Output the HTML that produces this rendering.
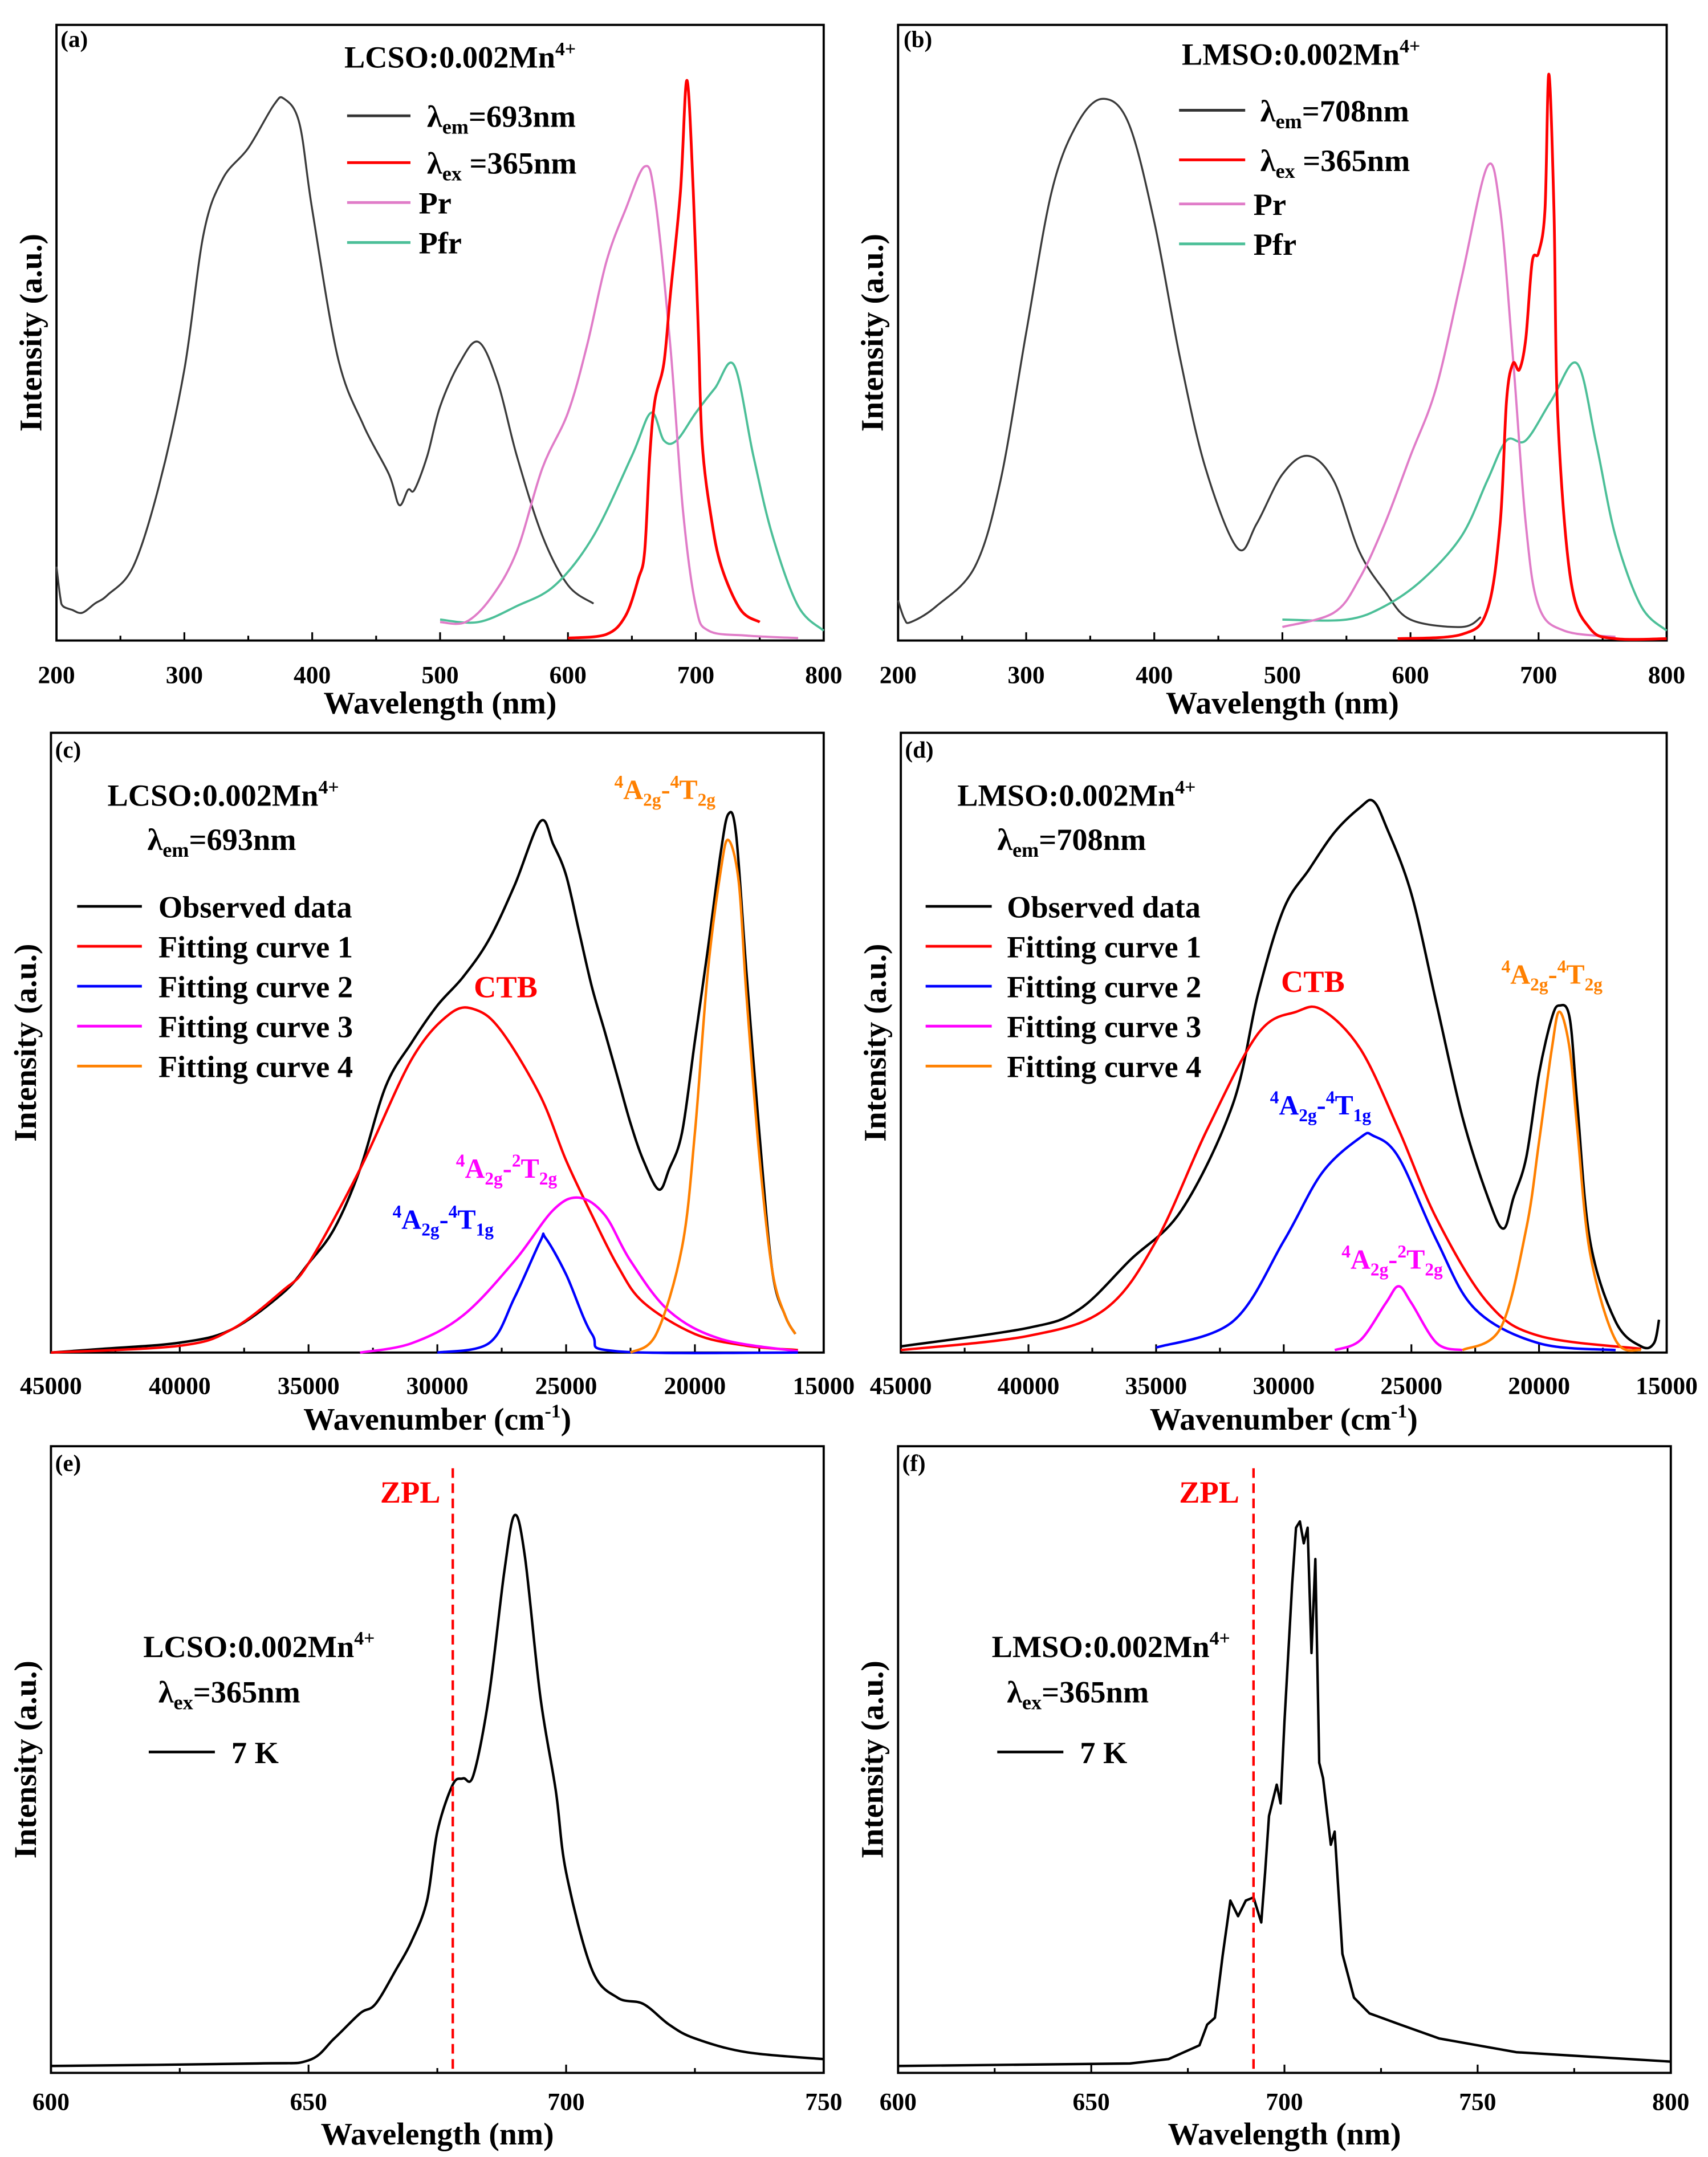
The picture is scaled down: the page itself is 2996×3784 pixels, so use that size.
<!DOCTYPE html>
<html><head><meta charset="utf-8"><style>
html,body{margin:0;padding:0;background:#fff;}
svg{display:block;font-family:"Liberation Serif",serif;font-weight:bold;}
</style></head><body>
<svg id="chart" width="2996" height="3784" viewBox="0 0 1240 1566" xmlns="http://www.w3.org/2000/svg">
<g id="marks"></g>
<g font-size="22.5">
<text x="44" y="34" font-size="17">(a)</text>
<text x="250" y="49">LCSO:0.002Mn<tspan dy="-9" font-size="14">4+</tspan></text>
<line x1="252" y1="84" x2="298" y2="84" stroke="#333" stroke-width="2"/>
<text x="310" y="92">λ<tspan dy="5" font-size="15">em</tspan><tspan dy="-5">=693nm</tspan></text>
<line x1="252" y1="118" x2="298" y2="118" stroke="#f00" stroke-width="2"/>
<text x="310" y="126">λ<tspan dy="5" font-size="15">ex</tspan><tspan dy="-5"> =365nm</tspan></text>
<line x1="252" y1="147" x2="298" y2="147" stroke="#e07cc8" stroke-width="2"/>
<text x="304" y="155">Pr</text>
<line x1="252" y1="176" x2="298" y2="176" stroke="#4cbf98" stroke-width="2"/>
<text x="304" y="184">Pfr</text>
</g>
<g font-size="22.5">
<text x="656" y="34" font-size="17">(b)</text>
<text x="858" y="47">LMSO:0.002Mn<tspan dy="-9" font-size="14">4+</tspan></text>
<line x1="856" y1="80" x2="904" y2="80" stroke="#333" stroke-width="2"/>
<text x="915" y="88">λ<tspan dy="5" font-size="15">em</tspan><tspan dy="-5">=708nm</tspan></text>
<line x1="856" y1="116" x2="904" y2="116" stroke="#f00" stroke-width="2"/>
<text x="915" y="124">λ<tspan dy="5" font-size="15">ex</tspan><tspan dy="-5"> =365nm</tspan></text>
<line x1="856" y1="148" x2="904" y2="148" stroke="#e07cc8" stroke-width="2"/>
<text x="910" y="156">Pr</text>
<line x1="856" y1="177" x2="904" y2="177" stroke="#4cbf98" stroke-width="2"/>
<text x="910" y="185">Pfr</text>
</g>
<g font-size="22.5">
<text x="40" y="550" font-size="17">(c)</text>
<text x="78" y="585">LCSO:0.002Mn<tspan dy="-9" font-size="14">4+</tspan></text>
<text x="107" y="617">λ<tspan dy="5" font-size="15">em</tspan><tspan dy="-5">=693nm</tspan></text>
<line x1="56" y1="658" x2="103" y2="658" stroke="#000" stroke-width="2"/><text x="115" y="666">Observed data</text>
<line x1="56" y1="687" x2="103" y2="687" stroke="#f00" stroke-width="2"/><text x="115" y="695">Fitting curve 1</text>
<line x1="56" y1="716" x2="103" y2="716" stroke="#00f" stroke-width="2"/><text x="115" y="724">Fitting curve 2</text>
<line x1="56" y1="745" x2="103" y2="745" stroke="#f0f" stroke-width="2"/><text x="115" y="753">Fitting curve 3</text>
<line x1="56" y1="774" x2="103" y2="774" stroke="#ff8000" stroke-width="2"/><text x="115" y="782">Fitting curve 4</text>
<text x="344" y="724" fill="#f00">CTB</text>
<text x="446" y="580" fill="#ff8000" font-size="20"><tspan font-size="13" dy="-8">4</tspan><tspan dy="8">A</tspan><tspan font-size="13" dy="5">2g</tspan><tspan dy="-5">-</tspan><tspan font-size="13" dy="-8">4</tspan><tspan dy="8">T</tspan><tspan font-size="13" dy="5">2g</tspan></text>
<text x="331" y="855" fill="#f0f" font-size="20"><tspan font-size="13" dy="-8">4</tspan><tspan dy="8">A</tspan><tspan font-size="13" dy="5">2g</tspan><tspan dy="-5">-</tspan><tspan font-size="13" dy="-8">2</tspan><tspan dy="8">T</tspan><tspan font-size="13" dy="5">2g</tspan></text>
<text x="285" y="892" fill="#00f" font-size="20"><tspan font-size="13" dy="-8">4</tspan><tspan dy="8">A</tspan><tspan font-size="13" dy="5">2g</tspan><tspan dy="-5">-</tspan><tspan font-size="13" dy="-8">4</tspan><tspan dy="8">T</tspan><tspan font-size="13" dy="5">1g</tspan></text>
</g>
<g font-size="22.5">
<text x="657" y="550" font-size="17">(d)</text>
<text x="695" y="585">LMSO:0.002Mn<tspan dy="-9" font-size="14">4+</tspan></text>
<text x="724" y="617">λ<tspan dy="5" font-size="15">em</tspan><tspan dy="-5">=708nm</tspan></text>
<line x1="672" y1="658" x2="720" y2="658" stroke="#000" stroke-width="2"/><text x="731" y="666">Observed data</text>
<line x1="672" y1="687" x2="720" y2="687" stroke="#f00" stroke-width="2"/><text x="731" y="695">Fitting curve 1</text>
<line x1="672" y1="716" x2="720" y2="716" stroke="#00f" stroke-width="2"/><text x="731" y="724">Fitting curve 2</text>
<line x1="672" y1="745" x2="720" y2="745" stroke="#f0f" stroke-width="2"/><text x="731" y="753">Fitting curve 3</text>
<line x1="672" y1="774" x2="720" y2="774" stroke="#ff8000" stroke-width="2"/><text x="731" y="782">Fitting curve 4</text>
<text x="930" y="720" fill="#f00">CTB</text>
<text x="1090" y="714" fill="#ff8000" font-size="20"><tspan font-size="13" dy="-8">4</tspan><tspan dy="8">A</tspan><tspan font-size="13" dy="5">2g</tspan><tspan dy="-5">-</tspan><tspan font-size="13" dy="-8">4</tspan><tspan dy="8">T</tspan><tspan font-size="13" dy="5">2g</tspan></text>
<text x="922" y="809" fill="#00f" font-size="20"><tspan font-size="13" dy="-8">4</tspan><tspan dy="8">A</tspan><tspan font-size="13" dy="5">2g</tspan><tspan dy="-5">-</tspan><tspan font-size="13" dy="-8">4</tspan><tspan dy="8">T</tspan><tspan font-size="13" dy="5">1g</tspan></text>
<text x="974" y="921" fill="#f0f" font-size="20"><tspan font-size="13" dy="-8">4</tspan><tspan dy="8">A</tspan><tspan font-size="13" dy="5">2g</tspan><tspan dy="-5">-</tspan><tspan font-size="13" dy="-8">2</tspan><tspan dy="8">T</tspan><tspan font-size="13" dy="5">2g</tspan></text>
</g>
<g font-size="22.5">
<text x="40" y="1068" font-size="17">(e)</text>
<text x="276" y="1091" fill="#f00">ZPL</text>
<text x="104" y="1203">LCSO:0.002Mn<tspan dy="-9" font-size="14">4+</tspan></text>
<text x="115" y="1236">λ<tspan dy="5" font-size="15">ex</tspan><tspan dy="-5">=365nm</tspan></text>
<line x1="108" y1="1272" x2="156" y2="1272" stroke="#000" stroke-width="2"/><text x="168" y="1280">7 K</text>
</g>
<g font-size="22.5">
<text x="655" y="1068" font-size="17">(f)</text>
<text x="856" y="1091" fill="#f00">ZPL</text>
<text x="720" y="1203">LMSO:0.002Mn<tspan dy="-9" font-size="14">4+</tspan></text>
<text x="731" y="1236">λ<tspan dy="5" font-size="15">ex</tspan><tspan dy="-5">=365nm</tspan></text>
<line x1="724" y1="1272" x2="772" y2="1272" stroke="#000" stroke-width="2"/><text x="784" y="1280">7 K</text>
</g>
</svg>
<script>
const aExcitation=[[200,0.12],[203,0.07],[205,0.056],[212,0.05],[220,0.045],[230,0.06],[240,0.074],[260,0.12],[280,0.25],[300,0.44],[315,0.66],[330,0.75],[350,0.8],[370,0.87],[378,0.88],[390,0.84],[400,0.7],[420,0.46],[440,0.35],[460,0.27],[468,0.22],[475,0.245],[480,0.245],[490,0.3],[500,0.38],[515,0.45],[530,0.485],[545,0.42],[560,0.3],[580,0.17],[600,0.09],[620,0.06]];
const aEmission=[[600,0.004],[630,0.01],[645,0.04],[655,0.1],[660,0.145],[664,0.3],[668,0.39],[675,0.45],[680,0.56],[688,0.73],[693,0.91],[698,0.73],[702,0.5],[705,0.32],[712,0.2],[720,0.12],[735,0.05],[750,0.03]];
const aPr=[[500,0.03],[520,0.03],[540,0.07],[560,0.145],[580,0.28],[600,0.37],[615,0.48],[630,0.615],[645,0.7],[660,0.77],[668,0.72],[680,0.48],[690,0.21],[700,0.056],[710,0.016],[740,0.008],[780,0.004]];
const aPfr=[[500,0.034],[530,0.03],[560,0.056],[590,0.09],[620,0.17],[650,0.3],[665,0.37],[675,0.325],[685,0.325],[700,0.37],[715,0.41],[730,0.447],[745,0.3],[760,0.17],[780,0.056],[800,0.016]];
const bExcitation=[[200,0.065],[205,0.035],[210,0.03],[230,0.056],[260,0.12],[280,0.26],[300,0.5],[320,0.73],[340,0.84],[360,0.88],[380,0.84],[400,0.68],[420,0.46],[440,0.28],[465,0.15],[480,0.19],[500,0.27],[520,0.3],[540,0.26],[560,0.145],[580,0.08],[600,0.034],[640,0.022],[655,0.038]];
const bEmission=[[590,0.003],[640,0.01],[660,0.05],[670,0.19],[675,0.39],[680,0.45],[685,0.44],[690,0.49],[695,0.615],[700,0.63],[705,0.7],[708,0.92],[712,0.7],[715,0.365],[725,0.1],[740,0.02],[760,0.003],[800,0.003]];
const bPr=[[500,0.022],[540,0.045],[560,0.1],[580,0.19],[600,0.3],[620,0.41],[640,0.59],[660,0.77],[670,0.7],[680,0.46],[690,0.19],[700,0.056],[720,0.016],[760,0.006]];
const bPfr=[[500,0.034],[550,0.034],[580,0.056],[610,0.1],[640,0.17],[660,0.26],[675,0.325],[690,0.325],[710,0.39],[730,0.45],[745,0.32],[760,0.17],[780,0.056],[800,0.016]];
const cObserved=[[45000,0],[43000,0.006],[40000,0.016],[38000,0.037],[36000,0.096],[35000,0.144],[34000,0.2],[33000,0.296],[32000,0.43],[31000,0.5],[30000,0.56],[29000,0.606],[28000,0.666],[27000,0.754],[26000,0.857],[25500,0.82],[25000,0.77],[24500,0.68],[24000,0.59],[23500,0.518],[23000,0.444],[22500,0.37],[22000,0.31],[21400,0.263],[21000,0.296],[20500,0.355],[20000,0.503],[19500,0.65],[19000,0.806],[18700,0.869],[18400,0.836],[18000,0.614],[17500,0.355],[17000,0.133],[16500,0.06],[16100,0.03]];
const cFit1=[[45000,0],[40000,0.011],[38000,0.037],[36000,0.1],[35000,0.144],[33000,0.296],[31000,0.473],[29500,0.547],[28500,0.553],[27500,0.518],[26000,0.414],[25000,0.31],[24000,0.222],[23000,0.14],[22000,0.081],[20000,0.03],[18000,0.011],[16000,0.004]];
const cFit2=[[30000,0],[28000,0.015],[27000,0.089],[26000,0.18],[25800,0.185],[25000,0.126],[24000,0.03],[23000,0.002],[16000,0]];
const cFit3=[[33000,0],[31000,0.015],[29000,0.06],[27000,0.148],[25500,0.23],[24500,0.25],[23500,0.222],[22500,0.148],[21000,0.067],[19000,0.022],[16000,0.002]];
const cFit4=[[22500,0],[21500,0.03],[20500,0.17],[20000,0.355],[19500,0.614],[19000,0.777],[18700,0.827],[18300,0.76],[18000,0.577],[17500,0.318],[17000,0.133],[16500,0.06],[16100,0.03]];
const dObserved=[[45000,0.01],[40000,0.04],[38000,0.07],[36000,0.15],[34000,0.23],[32000,0.4],[31000,0.58],[30000,0.716],[29000,0.78],[28000,0.84],[27000,0.88],[26500,0.89],[26000,0.85],[25000,0.74],[24000,0.56],[23000,0.38],[22000,0.25],[21400,0.2],[21000,0.25],[20500,0.315],[20000,0.45],[19500,0.54],[19200,0.56],[18800,0.54],[18500,0.4],[18000,0.18],[17000,0.05],[16000,0.01],[15500,0.015],[15300,0.053]];
const dFit1=[[45000,0.004],[40000,0.027],[37000,0.07],[35000,0.18],[33000,0.36],[31000,0.515],[29500,0.55],[28500,0.553],[27000,0.49],[25500,0.36],[24000,0.215],[22000,0.08],[20000,0.027],[16000,0.006]];
const dFit2=[[35000,0.008],[32000,0.05],[30000,0.18],[28500,0.29],[27000,0.347],[26500,0.35],[25500,0.315],[24000,0.18],[22500,0.07],[20000,0.015],[17000,0.004]];
const dFit3=[[28000,0.004],[27000,0.02],[26000,0.08],[25500,0.107],[25000,0.08],[24000,0.015],[23000,0.004]];
const dFit4=[[23000,0.004],[21500,0.04],[20500,0.2],[20000,0.34],[19500,0.49],[19200,0.55],[18800,0.49],[18500,0.36],[18000,0.16],[17000,0.02],[16000,0.004]];
const eLowT=[[600,0.011],[640,0.015],[650,0.02],[655,0.055],[660,0.095],[663,0.11],[667,0.165],[670,0.21],[673,0.275],[675,0.385],[678,0.46],[680,0.47],[682,0.475],[685,0.6],[688,0.8],[690,0.89],[692,0.824],[695,0.6],[698,0.45],[700,0.32],[705,0.165],[710,0.12],[715,0.11],[720,0.077],[725,0.055],[735,0.033],[750,0.022]];
const fLowT=[[600,0.011],[660,0.015],[670,0.022],[678,0.044],[680,0.077],[682,0.088],[684,0.187],[686,0.275],[688,0.25],[690,0.275],[692,0.28],[694,0.24],[695,0.32],[696,0.41],[698,0.46],[699,0.43],[700,0.56],[702,0.78],[703,0.87],[704,0.88],[705,0.845],[706,0.87],[707,0.67],[708,0.82],[709,0.495],[710,0.47],[712,0.364],[713,0.385],[715,0.19],[718,0.12],[722,0.095],[730,0.077],[740,0.055],[760,0.033],[800,0.018]];
const zplE=[678];
const zplF=[692];
const ticksAB=[200,300,400,500,600,700,800];
const ticksCD=[45000,40000,35000,30000,25000,20000,15000];
const ticksE=[600,650,700,750];
const ticksF=[600,650,700,750,800];

const NS="http://www.w3.org/2000/svg";
const root=document.getElementById('marks');
function mk(tag,parent){const e=document.createElementNS(NS,tag);parent.appendChild(e);return e;}

function panel(id,x0,x1,y0,y1,xmin,xmax,ticks,minor,title,tbase,labBase){
  const g=mk('g',root);
  
  
  const sx=v=>x0+(v-xmin)/(xmax-xmin)*(x1-x0);
  const sy=f=>y1-f*(y1-y0);
  const fr=mk('rect',g);
  
  
  fr.setAttribute('x',x0);fr.setAttribute('y',y0);fr.setAttribute('width',x1-x0);fr.setAttribute('height',y1-y0);
  fr.setAttribute('fill','none');fr.setAttribute('stroke','#000');fr.setAttribute('stroke-width','1.6');
  const lo=Math.min(xmin,xmax),hi=Math.max(xmin,xmax);
  for(let v=lo;v<=hi+1e-6;v+=minor){
    const isMajor=ticks.includes(v);
    const t=mk('line',g);
    
    
    t.setAttribute('x1',sx(v));t.setAttribute('x2',sx(v));t.setAttribute('y1',y1);t.setAttribute('y2',y1-(isMajor?6:3.5));
    t.setAttribute('stroke','#000');t.setAttribute('stroke-width','1.3');
  }
  ticks.forEach(v=>{
    const t=mk('text',g);
    
    
    t.setAttribute('x',sx(v));t.setAttribute('y',labBase);t.setAttribute('text-anchor','middle');t.setAttribute('font-size','18');
    t.textContent=String(v);
  });
  const xt=mk('text',g);
  
  
  xt.setAttribute('x',(x0+x1)/2);xt.setAttribute('y',tbase);xt.setAttribute('text-anchor','middle');xt.setAttribute('font-size','23');
  xt.innerHTML=title;
  const yt=mk('text',g);
  
  
  const cy=(y0+y1)/2;
  yt.setAttribute('transform','translate('+(x0-11)+','+cy+') rotate(-90)');
  yt.setAttribute('text-anchor','middle');yt.setAttribute('font-size','23');
  yt.textContent='Intensity (a.u.)';
  return {g,sx,sy,y0,y1};
}
function series(P,data,color,name,w,smooth){
  const pts=data.map(d=>[P.sx(d[0]),P.sy(d[1])]);
  let dstr='M'+pts[0][0].toFixed(2)+','+pts[0][1].toFixed(2);
  for(let i=0;i<pts.length-1;i++){
    const p0=pts[Math.max(0,i-1)],p1=pts[i],p2=pts[i+1],p3=pts[Math.min(pts.length-1,i+2)];
    if(smooth){
      const k=1/6;
      const c1=[p1[0]+(p2[0]-p0[0])*k,p1[1]+(p2[1]-p0[1])*k];
      const c2=[p2[0]-(p3[0]-p1[0])*k,p2[1]-(p3[1]-p1[1])*k];
      dstr+=' C'+c1[0].toFixed(2)+','+c1[1].toFixed(2)+' '+c2[0].toFixed(2)+','+c2[1].toFixed(2)+' '+p2[0].toFixed(2)+','+p2[1].toFixed(2);
    } else {
      dstr+=' L'+p2[0].toFixed(2)+','+p2[1].toFixed(2);
    }
  }
  const p=mk('path',P.g);
  
  
  p.setAttribute('d',dstr);
  p.setAttribute('fill','none');p.setAttribute('stroke',color);p.setAttribute('stroke-width',w||1.6);
  p.setAttribute('stroke-linejoin','round');
}
function zpl(P,vals,name){
  vals.forEach(v=>{
    const l=mk('line',P.g);
    
    
    l.setAttribute('x1',P.sx(v));l.setAttribute('x2',P.sx(v));l.setAttribute('y1',P.y0+16);l.setAttribute('y2',P.y1);
    l.setAttribute('stroke','#f00');l.setAttribute('stroke-width','1.8');l.setAttribute('stroke-dasharray','7,4');
  });
}
const wl='Wavelength (nm)';
const wn='Wavenumber (cm<tspan dy="-9" font-size="14">-1</tspan><tspan dy="9">)</tspan>';
const A=panel('a',41,598,18,465,200,800,ticksAB,50,wl,518,496);
series(A,aExcitation,'#3a3a3a','excitation-line-a',1.4,true);
series(A,aPfr,'#4cbf98','pfr-line-a',1.6,true);
series(A,aPr,'#e07cc8','pr-line-a',1.6,true);
series(A,aEmission,'#f00','emission-line-a',2,true);
const B=panel('b',652,1210,18,465,200,800,ticksAB,50,wl,518,496);
series(B,bExcitation,'#3a3a3a','excitation-line-b',1.4,true);
series(B,bPfr,'#4cbf98','pfr-line-b',1.6,true);
series(B,bPr,'#e07cc8','pr-line-b',1.6,true);
series(B,bEmission,'#f00','emission-line-b',2,true);
const C=panel('c',37,598,532,982,45000,15000,ticksCD,2500,wn,1038,1012);
series(C,cObserved,'#000','observed-line-c',1.8,true);
series(C,cFit1,'#f00','fit1-line-c',1.8,true);
series(C,cFit3,'#f0f','fit3-line-c',1.8,true);
series(C,cFit2,'#00f','fit2-line-c',1.8,true);
series(C,cFit4,'#ff8000','fit4-line-c',1.8,true);
const D=panel('d',654,1210,532,982,45000,15000,ticksCD,2500,wn,1038,1012);
series(D,dObserved,'#000','observed-line-d',1.8,true);
series(D,dFit1,'#f00','fit1-line-d',1.8,true);
series(D,dFit2,'#00f','fit2-line-d',1.8,true);
series(D,dFit3,'#f0f','fit3-line-d',1.8,true);
series(D,dFit4,'#ff8000','fit4-line-d',1.8,true);
const E=panel('e',37,598,1050,1505,600,750,ticksE,25,wl,1557,1532);
series(E,eLowT,'#000','emission-7k-line-e',1.8,true);
zpl(E,zplE,'zpl-line-e');
const F=panel('f',652,1213,1050,1505,600,800,ticksF,25,wl,1557,1532);
series(F,fLowT,'#000','emission-7k-line-f',1.8,false);
zpl(F,zplF,'zpl-line-f');
</script>
</body></html>
